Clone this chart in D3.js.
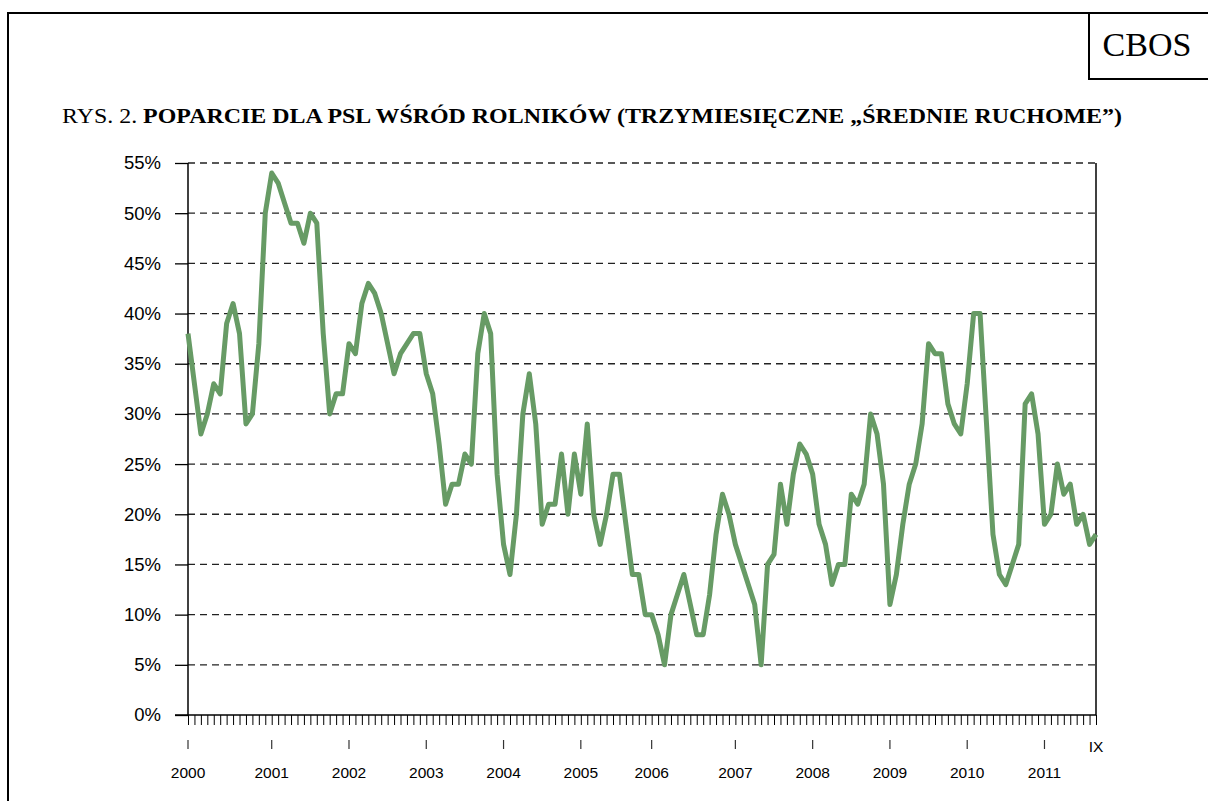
<!DOCTYPE html>
<html>
<head>
<meta charset="utf-8">
<script src="https://cdn.jsdelivr.net/npm/d3@7"></script>
<style>
  body { margin: 0; background: #fff; }
  svg { display: block; }
</style>
</head>
<body>
<script>
'use strict';

// poparcie dla PSL wsrod rolnikow, kolejne badania 2000 - IX 2011 (%)
const support = [
  38, 33, 28, 30, 33, 32, 39, 41, 38, 29, 30, 37,
  50, 54, 53, 51, 49, 49, 47, 50, 49, 38, 30, 32,
  32, 37, 36, 41, 43, 42, 40, 37, 34, 36, 37, 38,
  38, 34, 32, 27, 21, 23, 23, 26, 25, 36, 40, 38,
  24, 17, 14, 20, 30, 34, 29, 19, 21, 21, 26, 20,
  26, 22, 29, 20, 17, 20, 24, 24, 19, 14, 14, 10,
  10, 8, 5, 10, 12, 14, 11, 8, 8, 12, 18, 22,
  20, 17, 15, 13, 11, 5, 15, 16, 23, 19, 24, 27,
  26, 24, 19, 17, 13, 15, 15, 22, 21, 23, 30,
  28, 23, 11, 14, 19, 23, 25, 29, 37, 36, 36, 31,
  29, 28, 33, 40, 40, 29, 18, 14, 13, 15, 17, 31,
  32, 28, 19, 20, 25, 22, 23, 19, 20, 17, 18
]

// year labels and the survey index where each one sits
const yearLabels = ['2000', '2001', '2002', '2003', '2004', '2005',
                    '2006', '2007', '2008', '2009', '2010', '2011']
const yearIndex = [0, 13, 25, 37, 49, 61, 72, 85, 97, 109, 121, 133]
const lastLabel = 'IX'

const yTicks = [0, 5, 10, 15, 20, 25, 30, 35, 40, 45, 50, 55]

const m = {
  width: 1208,
  height: 801,
  left: 188,
  right: 1096,
  top: 163,
  bottom: 715
}

const green = '#679b65'

let svg = d3.select('body')
  .append('svg')
  .attr('width', m.width)
  .attr('height', m.height)

let x = d3.scaleLinear()
  .domain([0, support.length - 1])
  .range([m.left, m.right])

let y = d3.scaleLinear()
  .domain([0, 55])
  .range([m.bottom, m.top])

drawFrame()
drawGrid()
drawAxes()
drawLine()

// page frame, CBOS box and title
function drawFrame() {
  svg.append('path')
    .attr('d', 'M8,801V13H1208')
    .attr('fill', 'none')
    .attr('stroke', '#000')
    .attr('stroke-width', 2)

  svg.append('path')
    .attr('d', 'M1089,13V79H1208')
    .attr('fill', 'none')
    .attr('stroke', '#000')
    .attr('stroke-width', 2)

  svg.append('text')
    .attr('x', 1147)
    .attr('y', 56)
    .attr('text-anchor', 'middle')
    .style('font-family', '"Liberation Serif", "Times New Roman", serif')
    .style('font-size', '34px')
    .text('CBOS')

  let title = svg.append('text')
    .attr('x', 62)
    .attr('y', 123)
    .attr('textLength', 1060)
    .attr('lengthAdjust', 'spacingAndGlyphs')
    .style('font-family', '"Liberation Serif", "Times New Roman", serif')
    .style('font-size', '22px')
  title.append('tspan').text('RYS. 2. ')
  title.append('tspan')
    .style('font-weight', 'bold')
    .text('POPARCIE DLA PSL WŚRÓD ROLNIKÓW (TRZYMIESIĘCZNE „ŚREDNIE RUCHOME”)')
}

// dashed horizontal lines every 5 points
function drawGrid() {
  svg.append('g')
    .selectAll('line')
    .data(yTicks.filter(d => d > 0))
    .enter()
    .append('line')
      .attr('x1', m.left)
      .attr('x2', m.right)
      .attr('y1', d => y(d))
      .attr('y2', d => y(d))
      .attr('stroke', '#222')
      .attr('stroke-width', 1.3)
      .attr('stroke-dasharray', '7,5')

  // right edge of the plot area
  svg.append('line')
    .attr('x1', m.right)
    .attr('x2', m.right)
    .attr('y1', m.top)
    .attr('y2', m.bottom)
    .attr('stroke', '#000')
    .attr('stroke-width', 1.5)
}

function drawAxes() {
  let font = '"Liberation Sans", Arial, sans-serif'

  // y axis with outward ticks and percent labels
  let yAxis = d3.axisLeft(y)
    .tickValues(yTicks)
    .tickSize(13)
    .tickPadding(14)
    .tickFormat(d => d + '%')
  let gy = svg.append('g')
    .attr('transform', 'translate(' + m.left + ',0)')
    .call(yAxis)
  gy.select('.domain').remove()
  gy.selectAll('.tick line').attr('stroke', '#000').attr('stroke-width', 1.3)
  gy.selectAll('.tick text')
    .attr('fill', '#000')
    .style('font-family', font)
    .style('font-size', '18.5px')
  gy.append('line')
    .attr('y1', m.top)
    .attr('y2', m.bottom + 0.5)
    .attr('stroke', '#000')
    .attr('stroke-width', 1.5)

  // x axis: one small tick for every survey
  let xAxis = d3.axisBottom(x)
    .tickValues(d3.range(support.length))
    .tickSize(10)
    .tickFormat('')
  let gx = svg.append('g')
    .attr('transform', 'translate(0,' + m.bottom + ')')
    .call(xAxis)
  gx.select('.domain').remove()
  gx.selectAll('.tick line').attr('stroke', '#000').attr('stroke-width', 1)
  gx.append('line')
    .attr('x1', m.left - 13)
    .attr('x2', m.right)
    .attr('stroke', '#000')
    .attr('stroke-width', 1.5)

  // year markers "|" and year labels
  let years = svg.append('g')
    .selectAll('g')
    .data(yearLabels)
    .enter()
    .append('g')
      .attr('transform', (d, i) => 'translate(' + x(yearIndex[i]) + ',0)')
  years.append('line')
    .attr('y1', 740)
    .attr('y2', 749)
    .attr('stroke', '#333')
    .attr('stroke-width', 1.2)
  years.append('text')
    .attr('y', 778)
    .attr('text-anchor', 'middle')
    .style('font-family', font)
    .style('font-size', '15.5px')
    .text(d => d)

  svg.append('text')
    .attr('x', x(support.length - 1))
    .attr('y', 752)
    .attr('text-anchor', 'middle')
    .style('font-family', font)
    .style('font-size', '15.5px')
    .text(lastLabel)
}

function drawLine() {
  let line = d3.line()
    .x((d, i) => x(i))
    .y(d => y(d))

  svg.append('path')
    .datum(support)
    .attr('d', line)
    .attr('fill', 'none')
    .attr('stroke', green)
    .attr('stroke-width', 5)
    .attr('stroke-linejoin', 'round')
}
</script>
</body>
</html>
